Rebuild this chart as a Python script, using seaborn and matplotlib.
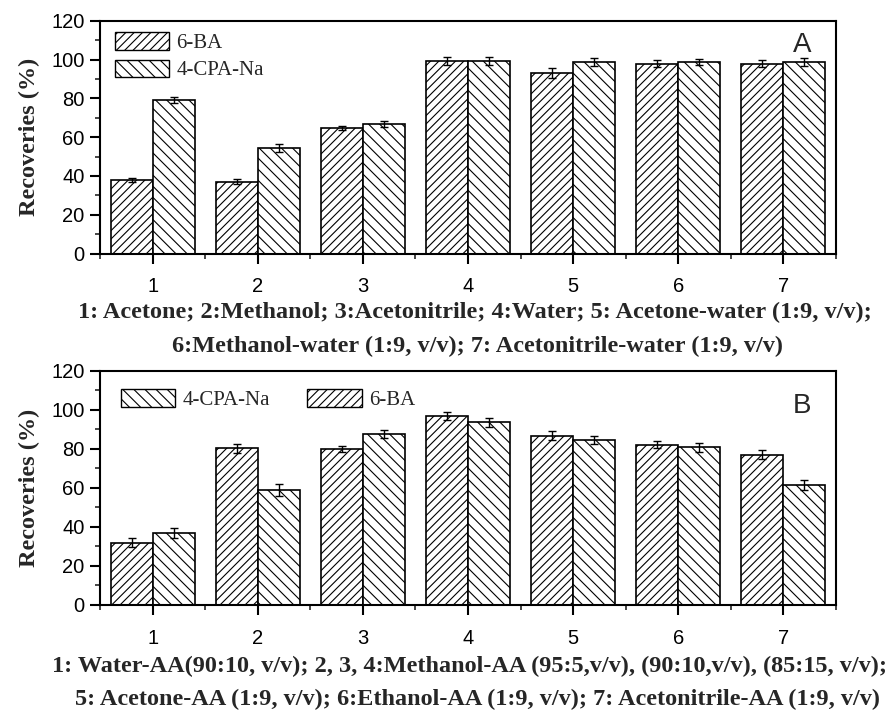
import numpy as np
import pandas as pd
import matplotlib
matplotlib.use("Agg")
import matplotlib.pyplot as plt
import seaborn as sns
from matplotlib.patches import Patch
from matplotlib.ticker import MultipleLocator, FixedLocator

# ---------------- data ----------------
groups = ["1", "2", "3", "4", "5", "6", "7"]
series = ["6-BA", "4-CPA-Na"]

a_6ba = [37.8, 37.0, 64.8, 99.2, 93.0, 97.9, 97.8]
a_6ba_err = [1.2, 1.2, 1.0, 2.0, 2.7, 2.0, 1.7]
a_cpa = [79.1, 54.5, 66.6, 99.2, 98.5, 98.6, 98.8]
a_cpa_err = [1.5, 2.1, 1.5, 2.0, 2.1, 1.5, 2.1]

b_6ba = [32.0, 80.2, 80.0, 96.8, 86.8, 82.2, 77.0]
b_6ba_err = [2.2, 2.5, 1.6, 2.0, 2.5, 2.0, 2.2]
b_cpa = [36.8, 58.9, 87.6, 93.5, 84.6, 80.8, 61.4]
b_cpa_err = [2.5, 2.9, 2.0, 2.1, 2.0, 2.4, 2.5]

yticks = [0, 20, 40, 60, 80, 100, 120]
xlabel_a = ["1: Acetone; 2:Methanol; 3:Acetonitrile; 4:Water; 5: Acetone-water (1:9, v/v);",
            "6:Methanol-water (1:9, v/v); 7: Acetonitrile-water (1:9, v/v)"]
xlabel_b = ["1: Water-AA(90:10, v/v); 2, 3, 4:Methanol-AA (95:5,v/v), (90:10,v/v), (85:15, v/v);",
            "5: Acetone-AA (1:9, v/v); 6:Ethanol-AA (1:9, v/v); 7: Acetonitrile-AA (1:9, v/v)"]
ylabel = "Recoveries (%)"

# ---------------- style ----------------
sns.set_theme(style="ticks")
plt.rcParams["font.family"] = ["Liberation Sans", "DejaVu Sans"]
plt.rcParams["hatch.linewidth"] = 0.8
plt.rcParams["axes.linewidth"] = 1.5

SERIF = ["Liberation Serif", "DejaVu Serif"]
hatches = {"6-BA": "////", "4-CPA-Na": "\\\\\\"}

fig = plt.figure(figsize=(8.96, 7.19), dpi=100)
W, H = 896, 719


def px_axes(left, right, top, bottom):
    return [left / W, 1 - bottom / H, (right - left) / W, (bottom - top) / H]


axA = fig.add_axes(px_axes(100, 836, 20.7, 253.5))
axB = fig.add_axes(px_axes(100, 836, 370.7, 605))


def panel(ax, v6, e6, vc, ec, tag, tag_y):
    df = pd.DataFrame({
        "group": groups * 2,
        "series": [series[0]] * len(groups) + [series[1]] * len(groups),
        "val": list(v6) + list(vc),
    })
    errs = {series[0]: e6, series[1]: ec}
    sns.barplot(data=df, x="group", y="val", hue="series", order=groups,
                hue_order=series, palette={s: "white" for s in series},
                width=0.8, errorbar=None, edgecolor="black", linewidth=1.2,
                legend=False, ax=ax, saturation=1)
    for cont, s in zip(ax.containers, series):
        for bar, err in zip(cont, errs[s]):
            bar.set_hatch(hatches[s])
            bar.set_edgecolor("black")
            x = bar.get_x() + bar.get_width() / 2
            ax.errorbar(x, bar.get_height(), yerr=err, fmt="none",
                        ecolor="black", elinewidth=1.0, capsize=3.2,
                        capthick=1.0, zorder=5)
    ax.set_xlim(-0.5, len(groups) - 0.5)
    ax.set_ylim(0, 120)
    ax.set_yticks(yticks)
    ax.yaxis.set_minor_locator(MultipleLocator(10))
    ax.xaxis.set_minor_locator(FixedLocator(np.arange(-0.5, len(groups), 1.0)))
    ax.tick_params(axis="both", which="major", direction="out", length=7,
                   width=1.5, labelsize=14.5, colors="black")
    ax.tick_params(axis="x", which="major", pad=10)
    ax.tick_params(axis="y", which="major", pad=4)
    ax.tick_params(axis="both", which="minor", direction="out", length=3.5,
                   width=1.2)
    for sp in ax.spines.values():
        sp.set_visible(True)
        sp.set_linewidth(1.5)
        sp.set_color("black")
    ax.set_xlabel("")
    ax.set_ylabel(ylabel, fontsize=17.5, fontweight="bold", family=SERIF,
                  labelpad=4)
    ax.text(0.967, tag_y, tag, transform=ax.transAxes,
            ha="right", va="top", fontsize=20,
            family=["Liberation Sans", "DejaVu Sans"])


panel(axA, a_6ba, a_6ba_err, a_cpa, a_cpa_err, "A", 0.95)
panel(axB, b_6ba, b_6ba_err, b_cpa, b_cpa_err, "B", 0.905)

for ax in (axA, axB):
    ax.yaxis.set_label_coords(-0.082, 0.5)

hA = [Patch(facecolor="white", edgecolor="black", hatch=hatches[s], linewidth=1.0, label=s)
      for s in series]
axA.legend(handles=hA, loc="upper left", bbox_to_anchor=(-0.005, 1.03), frameon=False,
           prop={"family": SERIF, "size": 15}, handlelength=2.6,
           handleheight=0.9, handletextpad=0.35, labelspacing=0.3,
           borderaxespad=0.5)
hB = [Patch(facecolor="white", edgecolor="black", hatch=hatches[s], linewidth=1.0, label=s)
      for s in series[::-1]]
axB.legend(handles=hB, loc="upper left", bbox_to_anchor=(0.003, 1.0), frameon=False,
           ncol=2, prop={"family": SERIF, "size": 15}, handlelength=2.6,
           handleheight=0.9, handletextpad=0.35, columnspacing=1.8,
           borderaxespad=0.5)

lab = dict(va="center", fontsize=17.5, fontweight="bold", family=SERIF)
fig.text(872 / W, 1 - 312 / H, xlabel_a[0], ha="right", **lab)
fig.text(783 / W, 1 - 346 / H, xlabel_a[1], ha="right", **lab)
fig.text(887 / W, 1 - 666 / H, xlabel_b[0], ha="right", **lab)
fig.text(880 / W, 1 - 699 / H, xlabel_b[1], ha="right", **lab)

fig.savefig("out.png", dpi=100, facecolor="white")
